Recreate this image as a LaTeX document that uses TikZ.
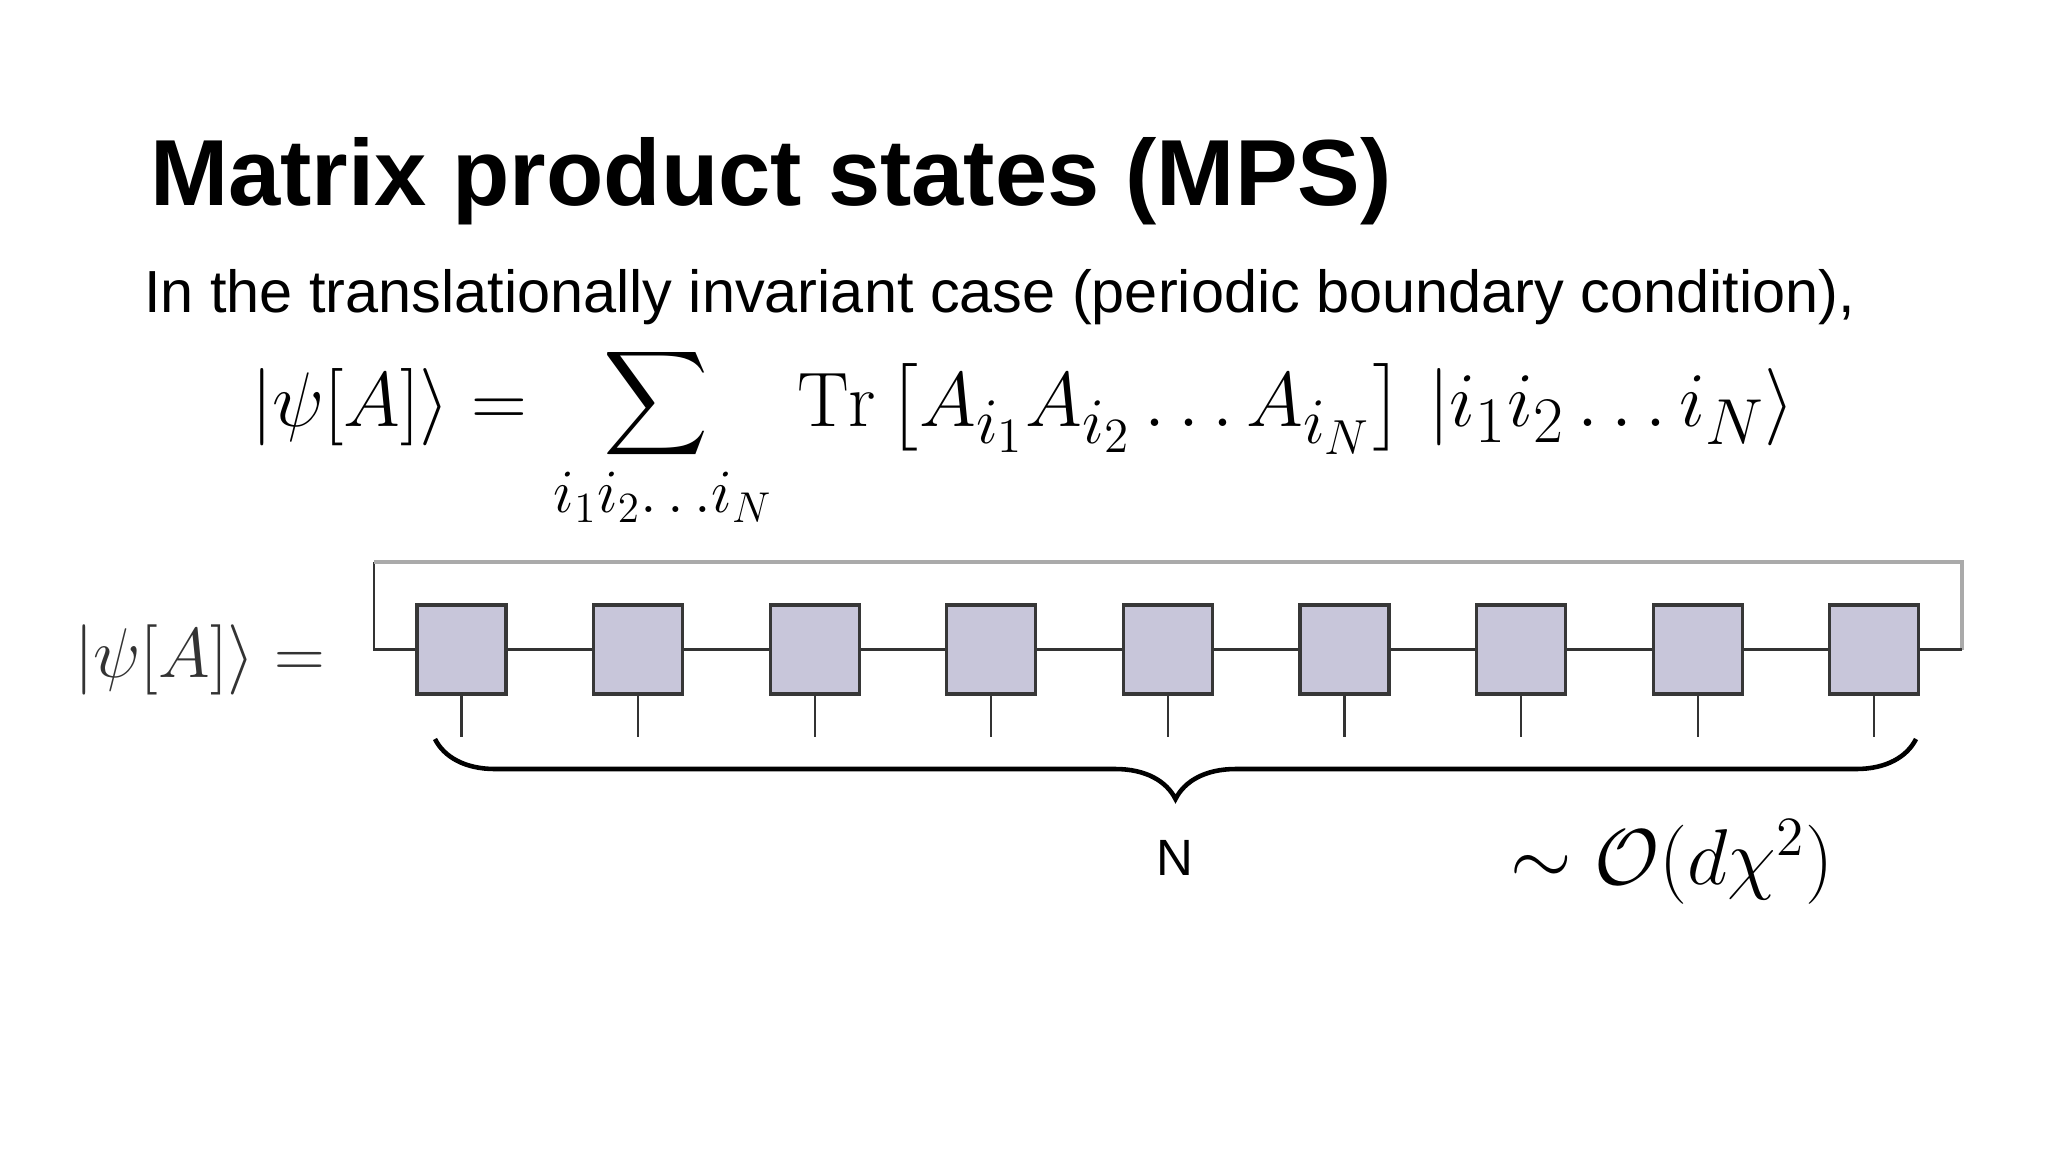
\RequirePackage{fix-cm}
\documentclass[tikz,border=0pt]{standalone}
\usepackage{amsmath}
\usepackage{fontspec}
\setsansfont{Liberation Sans}
\usetikzlibrary{decorations.pathreplacing}
\DeclareMathSizes{22}{22}{18.5}{14}
\definecolor{boxfill}{RGB}{200,198,218}
\definecolor{boxline}{RGB}{55,55,55}
\definecolor{loopgray}{RGB}{170,170,170}
\begin{document}
\begin{tikzpicture}[x=0.01cm,y=-0.01cm,
  txt/.style={inner sep=0pt, outer sep=0pt},
  mathbig/.style={txt, font=\fontsize{22}{26}\selectfont},
  tensor/.style={draw=boxline, fill=boxfill, line width=0.9pt, minimum width=0.89cm, minimum height=0.89cm, inner sep=0pt},
  bond/.style={draw=black!80, line width=0.75pt},
  leg/.style={draw=black!80, line width=0.6pt},
  loopline/.style={draw=loopgray, line width=0.9pt},
  bracestyle/.style={draw=black, line width=1.3pt, decorate, decoration={brace, mirror, amplitude=0.6cm}}
]
\path[fill=white, use as bounding box] (0,0) rectangle (2048,1152);

% title and subtitle
\node[txt, anchor=base west, font=\sffamily\bfseries\fontsize{26.7}{30}\selectfont] (title) at (150,206) {Matrix product states (MPS)};
\node[txt, anchor=base west, font=\sffamily\fontsize{16.9}{20}\selectfont] (sub) at (144,313) {In the translationally invariant case (periodic boundary condition),};

% formula
\node[mathbig, anchor=base west] (lhs) at (251,427) {$|\psi[A]\rangle =$};
\node[txt, font=\fontsize{22.5}{27}\selectfont] (sum) at (656,404) {$\displaystyle\sum$};
\node[txt, anchor=base, font=\fontsize{17.5}{21}\selectfont] (lim) at (663,513) {$i_1 i_2{\ldots} i_N$};
\node[mathbig, anchor=base west] (tr) at (797,427) {$\mathrm{Tr}\left[A_{i_1}A_{i_2}\ldots A_{i_N}\right]\,\left|i_1 i_2\ldots i_N\right\rangle$};

% left label of the diagram
\node[txt, anchor=base west, font=\fontsize{20}{24}\selectfont, text=black!80] (lhs2) at (74,677) {$|\psi[A]\rangle =$};

% tensors
\foreach \i in {1,...,9} {
  \pgfmathsetmacro{\xx}{461.5+176.6*(\i-1)}
  \node[tensor] (t\i) at (\xx,649.5) {};
  \coordinate (b\i) at (\xx,737);
  \draw[leg] (t\i.south) -- (b\i);
}
\foreach \i [evaluate=\i as \j using int(\i+1)] in {1,...,8} {
  \draw[bond] (t\i.east) -- (t\j.west);
}
\coordinate (L) at (374,649.5);
\coordinate (LT) at (374,562);
\coordinate (RT) at (1962,562);
\coordinate (R) at (1962,649.5);
\draw[bond] (t1.west) -- (L) -- (LT);
\draw[loopline] (LT) -- (RT) -- (R);
\draw[bond] (R) -- (t9.east);

% brace
\coordinate (bl) at (435,739);
\coordinate (br) at (1916,739);
\draw[bracestyle] (bl) -- (br);

\node[txt, font=\sffamily\fontsize{14.5}{17}\selectfont] (N) at (1175,858) {N};
\node[txt, font=\fontsize{22.5}{27}\selectfont] (cost) at (1672,862) {$\sim\mathcal{O}(d\chi^2)$};
\end{tikzpicture}
\end{document}
